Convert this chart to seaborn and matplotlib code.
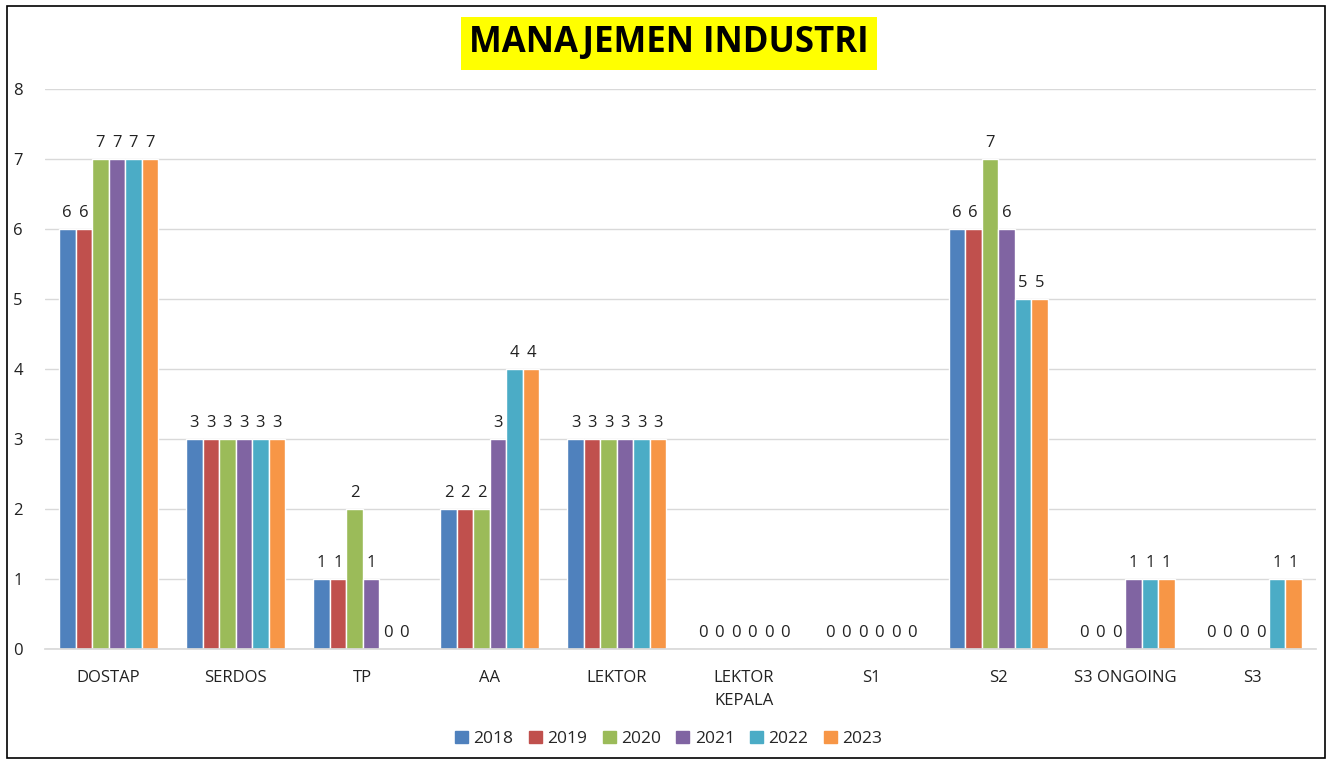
import matplotlib
matplotlib.use('Agg')
import matplotlib.pyplot as plt
import matplotlib.patches as mpatches
import numpy as np
import pandas as pd
import seaborn as sns

sns.set_theme(style='white')
plt.rcParams['font.family'] = ['Open Sans', 'DejaVu Sans']

# Data
categories = ['DOSTAP', 'SERDOS', 'TP', 'AA', 'LEKTOR', 'LEKTOR\nKEPALA',
              'S1', 'S2', 'S3 ONGOING', 'S3']
years = ['2018', '2019', '2020', '2021', '2022', '2023']
v2018 = [6, 3, 1, 2, 3, 0, 0, 6, 0, 0]
v2019 = [6, 3, 1, 2, 3, 0, 0, 6, 0, 0]
v2020 = [7, 3, 2, 2, 3, 0, 0, 7, 0, 0]
v2021 = [7, 3, 1, 3, 3, 0, 0, 6, 1, 0]
v2022 = [7, 3, 0, 4, 3, 0, 0, 5, 1, 1]
v2023 = [7, 3, 0, 4, 3, 0, 0, 5, 1, 1]
colors = ['#4F81BD', '#C0504D', '#9BBB59', '#8064A2', '#4BACC6', '#F79646']

series = [v2018, v2019, v2020, v2021, v2022, v2023]
df = pd.DataFrame({
    'cat': np.tile(categories, len(years)),
    'year': np.repeat(years, len(categories)),
    'val': np.concatenate(series),
})

fig = plt.figure(figsize=(13.32, 7.61), dpi=100)
ax = fig.add_axes([0.0338, 0.147, 0.954, 0.736])

sns.barplot(data=df, x='cat', y='val', hue='year', order=categories,
            hue_order=years, palette=colors, width=0.78, gap=0.0,
            edgecolor='white', linewidth=1.0, saturation=1, ax=ax,
            legend=False)

for cont in ax.containers:
    ax.bar_label(cont, fmt='%d', padding=6, fontsize=12, color='#222222')

ax.set_ylim(0, 8)
ax.set_yticks(range(0, 9))
ax.grid(axis='y', color='#D9D9D9', linewidth=1)
ax.set_axisbelow(True)
for s in ['top', 'right', 'left']:
    ax.spines[s].set_visible(False)
ax.spines['bottom'].set_color('#D9D9D9')
ax.set_xlabel('')
ax.set_ylabel('')
ax.tick_params(axis='x', length=0, labelsize=12, labelcolor='#222222', pad=15)
ax.tick_params(axis='y', length=0, labelsize=12, labelcolor='#222222', pad=16)
for lbl in ax.get_xticklabels():
    lbl.set_linespacing(1.55)

# Title
fig.text(0.502, 0.943, 'MANAJEMEN INDUSTRI', ha='center', va='center',
         fontsize=25, fontweight='bold', color='black',
         bbox=dict(facecolor='#FFFF00', edgecolor='none', pad=6))

# Legend
handles = [mpatches.Patch(color=c, label=y) for c, y in zip(colors, years)]
fig.legend(handles=handles, loc='center', bbox_to_anchor=(0.502, 0.029),
           ncol=6, frameon=False, fontsize=12.5, handlelength=0.75,
           handleheight=0.75, handletextpad=0.3, columnspacing=0.9)

# Outer border
fig.patches.append(mpatches.Rectangle((0.005, 0.004), 0.99, 0.988,
                                      transform=fig.transFigure, fill=False,
                                      edgecolor='black', linewidth=1.2))

fig.savefig('out.png', dpi=100, facecolor='white')
